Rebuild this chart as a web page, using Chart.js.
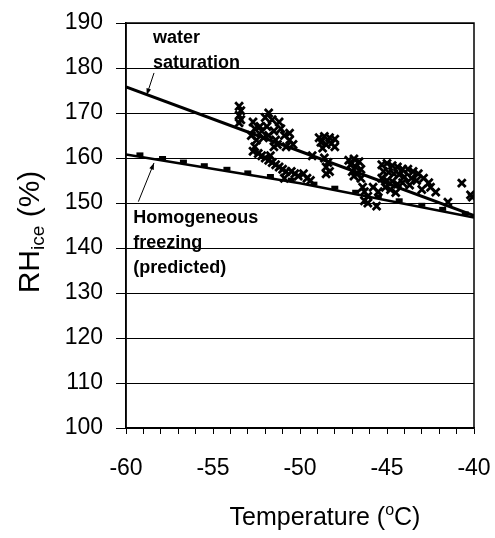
<!DOCTYPE html>
<html>
<head>
<meta charset="utf-8">
<script src="https://cdn.jsdelivr.net/npm/chart.js@4/dist/chart.umd.min.js"></script>
<style>
  html, body { margin: 0; padding: 0; background: #fff; }
  #wrap { width: 495px; height: 538px; }
</style>
</head>
<body>
<div id="wrap"><canvas id="line-chart" width="495" height="538"></canvas></div>
<script>
const FONT = "'Liberation Sans', Arial, sans-serif";

// water saturation curve
const waterT = [-60, -50, -40];
const waterRH = [175.8, 161.5, 147.2];

// homogeneous freezing line
const homT = [-60, -50, -40];
const homRH = [160.8, 154.4, 146.8];

// predicted homogeneous freezing points (dashes)
const predT = [-59.2, -57.9, -56.7, -55.5, -54.2, -53.0, -51.7, -50.5, -49.2, -48.0, -46.8, -45.5, -44.3, -43.0, -41.8, -40.5];
const predRH = [160.8, 160.0, 159.2, 158.4, 157.6, 156.8, 156.0, 155.2, 154.3, 153.4, 152.5, 151.5, 150.6, 149.6, 148.7, 147.7];

// observations
const obsT = [
  -53.5, -53.4, -53.5, -53.4, -53.5,
  -52.7, -52.6, -52.8, -52.5, -52.3, -52.0, -51.8, -51.6, -51.9, -51.5, -51.8, -52.1, -51.4, -51.1, -51.2, -50.9, -50.6, -50.8, -50.4, -51.5, -52.6, -50.6, -52.2, -51.3,
  -52.7, -52.4, -52.2, -52.0, -51.8, -51.6, -51.4, -51.2, -51.0, -50.8, -50.5, -50.3, -50.1, -49.8, -49.6, -49.4, -50.9, -51.7,
  -48.9, -48.6, -48.3, -48.0, -48.8, -48.5, -48.2, -48.0, -48.7, -48.6, -48.4, -48.5, -48.3, -48.5, -49.3,
  -47.2, -46.9, -46.6, -47.1, -46.8, -46.5, -47.0, -46.7, -46.5, -46.9, -46.4, -46.3, -46.1, -46.3, -46.1, -45.6, -45.8, -45.5,
  -45.3, -45.0, -44.7, -44.4, -44.1, -43.8, -43.5, -43.2, -45.2, -44.9, -44.6, -44.3, -44.0, -43.6, -43.3, -45.3, -45.0, -44.7, -44.4, -44.1, -43.7, -45.1, -44.8, -44.5, -42.9, -42.6, -42.5, -43.0, -42.2, -41.5, -40.7, -40.1, -40.2
];
const obsRH = [
  171.5, 170.5, 169.5, 168.5, 167.8,
  168.0, 166.5, 165.0, 164.0, 167.0, 169.0, 170.0, 168.5, 167.0, 166.0, 165.0, 164.5, 164.0, 166.5, 168.0, 165.0, 164.0, 162.5, 163.0, 162.5, 162.5, 165.5, 166.0, 163.0,
  161.5, 161.0, 160.5, 160.0, 159.5, 159.0, 158.5, 158.0, 157.5, 157.0, 157.0, 156.5, 156.0, 156.5, 155.5, 155.0, 155.5, 160.5,
  164.5, 164.8, 164.5, 164.2, 163.5, 163.0, 163.2, 162.5, 162.2, 160.0, 159.0, 158.0, 157.0, 156.5, 160.5,
  159.5, 159.8, 159.2, 158.5, 158.0, 157.5, 157.0, 156.5, 155.5, 156.0, 153.5, 152.5, 151.5, 150.5, 150.0, 149.3, 153.5, 152.5,
  158.5, 158.8, 158.3, 158.0, 157.5, 157.5, 157.0, 156.5, 157.0, 156.8, 156.5, 156.3, 155.8, 155.5, 155.0, 155.5, 155.0, 154.8, 154.2, 154.5, 154.0, 153.5, 153.0, 152.3, 155.5, 154.5, 153.5, 153.0, 152.4, 150.2, 154.4, 151.3, 151.8
];

const xTicks = [-60, -55, -50, -45, -40];
const yTicks = [100, 110, 120, 130, 140, 150, 160, 170, 180, 190];

// annotation texts and arrows, in data units
const notes = [
  { lines: ['water', 'saturation'], t: -58.45, rh: 185.6 },
  { lines: ['Homogeneous', 'freezing', '(predicted)'], t: -59.58, rh: 145.5 }
];
const arrows = [
  { from: [-58.39, 178.9], to: [-58.81, 174.0] },
  { from: [-59.29, 150.3], to: [-58.39, 158.9] }
];

const zip = (xs, ys) => xs.map((x, i) => ({ x: x, y: ys[i] }));

function drawRuns(ctx, runs, x, y) {
  let w = 0;
  runs.forEach(r => { ctx.font = r.font; w += ctx.measureText(r.text).width; });
  let cx = x - w / 2;
  runs.forEach(r => {
    ctx.font = r.font;
    ctx.fillText(r.text, cx, y + (r.dy || 0));
    cx += ctx.measureText(r.text).width;
  });
}

const extras = {
  id: 'extras',
  afterDraw(chart) {
    const ctx = chart.ctx, a = chart.chartArea;
    const xs = chart.scales.x, ys = chart.scales.y;
    ctx.save();
    // frame
    ctx.strokeStyle = '#000';
    ctx.lineWidth = 1.5;
    ctx.strokeRect(a.left, a.top, a.right - a.left, a.bottom - a.top);

    // notes
    ctx.fillStyle = '#000';
    ctx.textBaseline = 'alphabetic';
    ctx.textAlign = 'left';
    ctx.font = 'bold 18px ' + FONT;
    notes.forEach(n => {
      const px = xs.getPixelForValue(n.t);
      const py = ys.getPixelForValue(n.rh);
      n.lines.forEach((s, i) => ctx.fillText(s, px, py + i * 25));
    });

    // arrows
    ctx.lineWidth = 1;
    arrows.forEach(ar => {
      const x1 = xs.getPixelForValue(ar.from[0]), y1 = ys.getPixelForValue(ar.from[1]);
      const x2 = xs.getPixelForValue(ar.to[0]), y2 = ys.getPixelForValue(ar.to[1]);
      ctx.beginPath();
      ctx.moveTo(x1, y1);
      ctx.lineTo(x2, y2);
      ctx.stroke();
      const ang = Math.atan2(y2 - y1, x2 - x1);
      ctx.beginPath();
      ctx.moveTo(x2, y2);
      ctx.lineTo(x2 - 7 * Math.cos(ang - 0.35), y2 - 7 * Math.sin(ang - 0.35));
      ctx.lineTo(x2 - 7 * Math.cos(ang + 0.35), y2 - 7 * Math.sin(ang + 0.35));
      ctx.closePath();
      ctx.fill();
    });

    // axis titles
    drawRuns(ctx, [
      { text: 'Temperature (', font: '25px ' + FONT },
      { text: 'o', font: '16px ' + FONT, dy: -10 },
      { text: 'C)', font: '25px ' + FONT }
    ], 325, 525);

    ctx.translate(39, 232);
    ctx.rotate(-Math.PI / 2);
    drawRuns(ctx, [
      { text: 'RH', font: '30px ' + FONT },
      { text: 'ice', font: '19px ' + FONT, dy: 5 },
      { text: ' (%)', font: '30px ' + FONT }
    ], 0, 0);
    ctx.restore();
  }
};

const chart = new Chart(document.getElementById('line-chart'), {
  type: 'scatter',
  data: {
    datasets: [
      {
        label: 'water saturation',
        data: zip(waterT, waterRH),
        showLine: true,
        borderColor: '#000',
        borderWidth: 3,
        pointRadius: 0,
        order: 3
      },
      {
        label: 'homogeneous freezing',
        data: zip(homT, homRH),
        showLine: true,
        borderColor: '#000',
        borderWidth: 2.5,
        pointRadius: 0,
        order: 2
      },
      {
        label: 'predicted',
        data: zip(predT, predRH),
        pointStyle: 'line',
        pointRadius: 3.5,
        borderColor: '#000',
        borderWidth: 4,
        order: 1
      },
      {
        label: 'observed',
        data: zip(obsT, obsRH),
        pointStyle: 'crossRot',
        pointRadius: 5.5,
        borderColor: '#000',
        borderWidth: 2.8,
        order: 0
      }
    ]
  },
  options: {
    responsive: false,
    animation: false,
    events: [],
    layout: { padding: { left: 0, right: 21, top: 23, bottom: 0 } },
    plugins: {
      legend: { display: false },
      tooltip: { enabled: false },
      title: { display: false }
    },
    scales: {
      x: {
        type: 'linear',
        min: -60,
        max: -40,
        afterFit: s => { s.height = 110; s.paddingLeft = 0; s.paddingRight = 0; },
        afterBuildTicks: s => {
          const t = [];
          for (let v = -60; v <= -40; v++) t.push({ value: v });
          s.ticks = t;
        },
        ticks: {
          autoSkip: false,
          maxRotation: 0,
          padding: 21,
          color: '#000',
          font: { family: FONT, size: 23 },
          callback: v => xTicks.includes(v) ? String(v) : ''
        },
        grid: { drawOnChartArea: false, color: '#000', tickLength: 6, lineWidth: 1 },
        border: { color: '#000', width: 1.5 }
      },
      y: {
        min: 100,
        max: 190,
        afterFit: s => { s.width = 126; s.paddingTop = 0; s.paddingBottom = 0; },
        afterBuildTicks: s => { s.ticks = yTicks.map(v => ({ value: v })); },
        ticks: {
          padding: 13,
          color: '#000',
          font: { family: FONT, size: 23 }
        },
        grid: { color: '#000', tickLength: 10, lineWidth: 1 },
        border: { color: '#000', width: 1.5 }
      }
    }
  },
  plugins: [extras]
});
</script>
</body>
</html>
